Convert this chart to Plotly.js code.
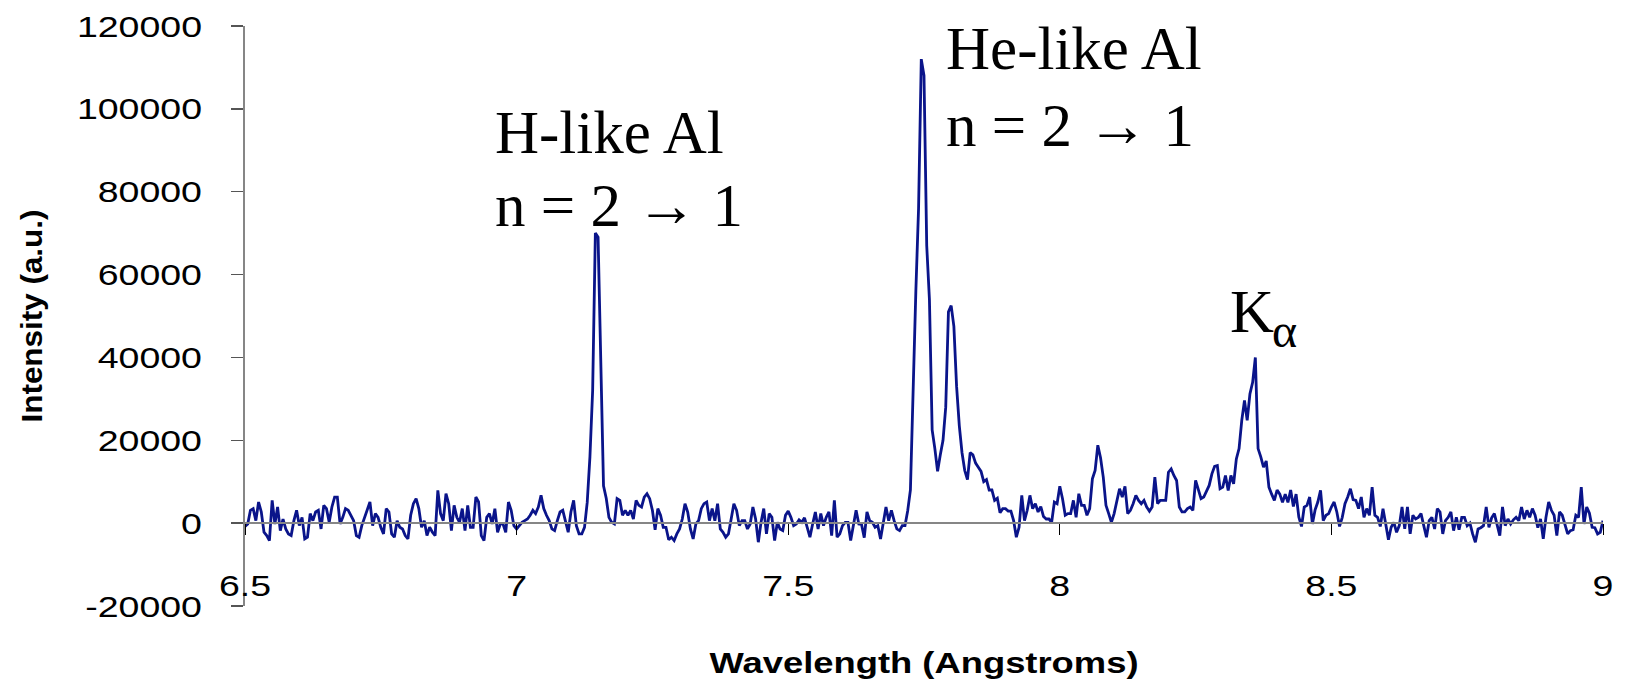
<!DOCTYPE html>
<html>
<head>
<meta charset="utf-8">
<script src="https://cdn.plot.ly/plotly-3.0.1.min.js"></script>
<style>
  html, body { margin: 0; padding: 0; background: #ffffff; }
  #chart { width: 1632px; height: 687px; }
</style>
</head>
<body>
<div id="chart"></div>
<script>
// X-ray emission spectrum of aluminium: intensity sampled every 0.005 Å from 6.5 Å.
const wavelengthStart = 6.5;
const wavelengthStep = 0.005;

// 6.500 – 6.995 Å
const band650 = [
  -800, -200, 3100, 3500, 600, 5100, 2700, -2200, -3000, -4200,
  5500, -200, 3900, -1800, 1000, -1400, -2600, -3000, 600, 3100,
  -600, 1400, -3800, -3400, 2300, 600, 2700, 3100, -1400, 4300,
  3500, 200, 3900, 6300, 6300, -200, 1400, 3500, 3100, 1900,
  600, -3000, -3400, -600, 1400, 3100, 5100, -600, 2300, 1400,
  -1000, -2600, 3500, 2700, -2600, -3400, 600, -1000, -1400, -3000,
  -3800, 1900, 4700, 5900, 3500, -1000, 600, -3000, -1000, -2200,
  -3000, 7900, 2300, 600, 7100, 4700, -1800, 4300, 1400, 200,
  3500, -1800, 4300, -1000, -1000, 6300, 5100, -3000, -4200, 1400,
  2300, -200, 3500, -2200, -200, -200, -2200, 5100, 3100, -600
];
// 7.000 – 7.495 Å (H-like Al Lyman-alpha near 7.14 Å)
const band700 = [
  -1400, -600, 200, 600, 1000, 1900, 3100, 2300, 3900, 6700,
  3500, 1900, 600, -1400, -1800, 600, 2700, 3100, 200, -2200,
  2700, 5500, -600, -2600, -2600, -1000, 5000, 16000, 32000, 70000,
  69000, 40000, 9000, 6000, 1400, 200, -200, 5900, 5500, 1900,
  3100, 1900, 3100, 1000, 5500, 4300, 3900, 6300, 7100, 5900,
  3100, -1600, 3500, 1900, -1000, -1000, -4000, -3400, -4200, -2600,
  -1400, 1000, 4700, 2700, -1400, -3800, -200, 600, 3500, 4700,
  5100, 600, 3500, 600, 4700, -1400, -2200, -3400, -2600, 1000,
  4700, 3100, -600, 600, 600, -1400, -200, 3900, 1000, -4600,
  200, 3500, -2600, 2300, 1400, -4200, 200, -1400, -1800, 1900
];
// 7.500 – 7.995 Å (He-like Al resonance and intercombination lines)
const band750 = [
  2900, 1400, -600, -200, 800, 200, 1300, -1000, -3400, -200,
  2700, -1400, 2300, -600, 1400, 2700, -3000, 5500, -3400, -2600,
  -600, 200, 200, -4200, -600, 3100, -200, -300, -3500, 2700,
  600, 200, -1000, -600, -3800, 200, 3900, 600, 3100, 600,
  -1400, -1800, -600, -600, 3000, 8000, 34000, 56000, 76000, 112000,
  108000, 67000, 54000, 22500, 18000, 12500, 16500, 20000, 28000, 51000,
  52500, 47500, 33000, 23500, 17000, 12700, 10500, 17000, 16500, 14500,
  13500, 12500, 10000, 10500, 8000, 8000, 5500, 6000, 2500, 3500,
  3500, 2900, 2900, 600, -3400, -1000, 6700, 600, 3100, 6700,
  3500, 4700, 2700, 4000, 1600, 1000, 1000, 200, 5100, 4700
];
// 8.000 – 8.495 Å (satellites and K-alpha near 8.34 Å)
const band800 = [
  8900, 5900, 1900, 2300, 2300, 5500, 1400, 7100, 4300, 4300,
  1900, 3500, 10700, 12700, 18800, 15800, 11100, 4300, 2300, 200,
  2300, 5100, 8300, 6300, 8900, 2300, 3100, 4700, 6700, 5500,
  4700, 5500, 3900, 2900, 3900, 11100, 4700, 5500, 5500, 5500,
  12300, 13100, 11500, 10300, 3900, 2700, 2700, 3500, 3900, 3100,
  10300, 8300, 5900, 6300, 7900, 9100, 11900, 13700, 13900, 8300,
  8700, 11500, 7900, 11500, 9500, 15500, 18000, 24800, 29600, 24800,
  31200, 34000, 40000, 18000, 16000, 13500, 15000, 8700, 7000, 5500,
  8000, 7000, 5000, 7000, 5000, 8000, 4000, 7000, 1500, -800,
  3900, 4300, 6300, -200, 3200, 5100, 7900, 600, 1900, 2300
];
// 8.500 – 9.000 Å
const band850 = [
  3900, 5100, 2700, -800, 1400, 4700, 6300, 8300, 5700, 5500,
  3500, 6300, 1400, 3500, 1900, 8700, 1900, 1400, -800, 3500,
  -200, -4000, -1000, 200, -2200, -600, 3900, -1400, 3900, -2600,
  1900, 1000, 1400, 2300, -600, -3400, 600, 1400, -1400, 3500,
  2700, -2600, 600, 1400, 2700, -1800, 1400, -1600, 1400, 1400,
  -600, 0, -2600, -4600, -1400, -1100, -600, 3900, -1000, 1300,
  2300, -600, -3000, 3900, -600, 1000, -200, 800, 1400, 600,
  3900, 1000, 3100, 1400, 3500, 1900, -1100, 1000, -3800, 1400,
  5100, 3100, 1900, -3000, 2700, 1900, -600, -2600, -1800, -1600,
  1900, 1400, 8700, -200, 3900, 2400, -1000, -1100, -2600, -2200,
  600
];

const intensity = [].concat(band650, band700, band750, band800, band850);

const xTicks = [6.5, 7, 7.5, 8, 8.5, 9];
const yTicks = [-20000, 0, 20000, 40000, 60000, 80000, 100000, 120000];
const xRange = [6.5, 9];
const yRange = [-20000, 120000];

const sans = 'Liberation Sans, Arial, sans-serif';
const serif = 'Liberation Serif, Times New Roman, serif';
const labelFont = { family: serif, size: 61, color: '#000000' };
const subFont = { family: serif, size: 48, color: '#000000' };

const trace = {
  type: 'scatter',
  mode: 'lines',
  x0: wavelengthStart,
  dx: wavelengthStep,
  y: intensity,
  line: { color: '#0a148a', width: 2.8 },
  hoverinfo: 'x+y'
};

// The wavelength axis crosses the intensity axis at zero.
const zeroFraction = (0 - yRange[0]) / (yRange[1] - yRange[0]);

const layout = {
  width: 1632,
  height: 687,
  margin: { l: 245, r: 29, t: 26, b: 81 },
  paper_bgcolor: '#ffffff',
  plot_bgcolor: '#ffffff',
  showlegend: false,
  xaxis: {
    range: xRange,
    tickvals: xTicks,
    ticktext: xTicks.map(String),
    anchor: 'free',
    position: zeroFraction,
    showline: true,
    linecolor: '#868686',
    linewidth: 2,
    ticks: 'outside',
    ticklen: 11,
    tickwidth: 1,
    tickcolor: '#000000',
    showgrid: false,
    zeroline: false,
    ticklabelstandoff: 25,
    tickfont: { family: sans, size: 30, color: '#000000' },
    title: {
      text: 'Wavelength (Angstroms)',
      font: { family: sans, size: 29, weight: 'bold', color: '#000000' },
      standoff: 51
    }
  },
  yaxis: {
    range: yRange,
    tickvals: yTicks,
    ticktext: yTicks.map(String),
    showline: true,
    linecolor: '#868686',
    linewidth: 2,
    ticks: 'outside',
    ticklen: 12,
    tickwidth: 1.5,
    tickcolor: '#555555',
    showgrid: false,
    zeroline: false,
    ticklabelstandoff: 23,
    tickfont: { family: sans, size: 30, color: '#000000' },
    title: {
      text: 'Intensity (a.u.)',
      font: { family: sans, size: 30, weight: 'bold', color: '#000000' },
      standoff: 50
    }
  },
  annotations: [
    { text: 'H-like Al', x: 6.9563, y: 94300, xanchor: 'left', yanchor: 'middle', showarrow: false, font: labelFont },
    { text: 'n = 2 \u2192 1', x: 6.9563, y: 76700, xanchor: 'left', yanchor: 'middle', showarrow: false, font: labelFont },
    { text: 'He-like Al', x: 7.7875, y: 114600, xanchor: 'left', yanchor: 'middle', showarrow: false, font: labelFont },
    { text: 'n = 2 \u2192 1', x: 7.7875, y: 96000, xanchor: 'left', yanchor: 'middle', showarrow: false, font: labelFont },
    { text: 'K', x: 8.3095, y: 51000, xanchor: 'left', yanchor: 'middle', showarrow: false, font: labelFont },
    { text: '\u03b1', x: 8.3875, y: 46500, xanchor: 'left', yanchor: 'middle', showarrow: false, font: subFont }
  ]
};

// Widen the sans-serif labels to the proportions of the printed figure.
function widen(gd, selector, factor, targetWidth) {
  gd.querySelectorAll(selector).forEach(function (t) {
    const w = t.getComputedTextLength();
    if (!w) return;
    const len = targetWidth ? targetWidth : w * factor;
    t.setAttribute('textLength', len.toFixed(1));
    t.setAttribute('lengthAdjust', 'spacingAndGlyphs');
  });
}

Plotly.newPlot('chart', [trace], layout, { displayModeBar: false, staticPlot: true })
  .then(function (gd) {
    widen(gd, '.xtick text', 1.25);
    widen(gd, '.ytick text', 1.25);
    widen(gd, '.g-xtitle text', 1, 429);
    widen(gd, '.g-ytitle text', 1, 213);
  });
</script>
</body>
</html>
